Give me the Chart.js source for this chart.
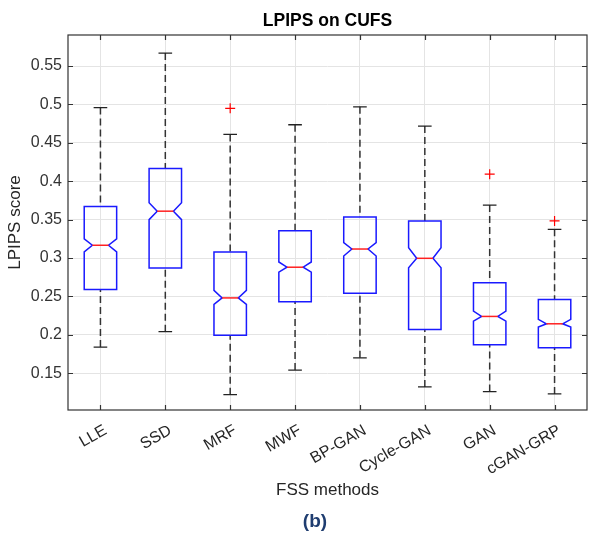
<!DOCTYPE html>
<html>
<head>
<meta charset="utf-8">
<title>LPIPS on CUFS</title>
<script src="https://cdn.jsdelivr.net/npm/chart.js@4.4.1/dist/chart.umd.min.js"></script>
<style>
  html, body { margin: 0; padding: 0; background: #fff; }
  canvas { display: block; }
</style>
</head>
<body>
<canvas id="lpipsChart" width="589" height="536"></canvas>
<script>
// values
const methods     = ["LLE", "SSD", "MRF", "MWF", "BP-GAN", "Cycle-GAN", "GAN", "cGAN-GRP"];
const whiskerLow  = [0.184, 0.204, 0.122, 0.154, 0.170, 0.132, 0.126, 0.123];
const q1          = [0.259, 0.287, 0.1995, 0.243, 0.254, 0.207, 0.187, 0.183];
const notchLow    = [0.308, 0.350, 0.2396, 0.2817, 0.3026, 0.2873, 0.2178, 0.2100];
const median      = [0.3166, 0.361, 0.248, 0.288, 0.3117, 0.2996, 0.2239, 0.2143];
const notchHigh   = [0.325, 0.372, 0.2578, 0.2948, 0.3200, 0.3134, 0.2308, 0.2200];
const q3          = [0.367, 0.4166, 0.3078, 0.3356, 0.3535, 0.3483, 0.2678, 0.2461];
const whiskerHigh = [0.496, 0.567, 0.461, 0.4736, 0.497, 0.4719, 0.369, 0.3374];
const outliers    = [null, null, 0.495, null, null, null, 0.4092, 0.3483];

const yTicks      = [0.15, 0.2, 0.25, 0.3, 0.35, 0.4, 0.45, 0.5, 0.55];
const yTickLabels = ["0.15", "0.2", "0.25", "0.3", "0.35", "0.4", "0.45", "0.5", "0.55"];

const FONT = "'Liberation Sans', Arial, Helvetica, sans-serif";
Chart.defaults.font.family = FONT;

/* ================= NOTCHED BOXES ================= */
const notchedBoxes = {
    id: "notchedBoxes",
    afterDatasetsDraw(chart) {
        const { ctx, scales: { x, y } } = chart;
        const step = x.getPixelForValue(1) - x.getPixelForValue(0);
        const py = v => y.getPixelForValue(v);

        ctx.save();
        methods.forEach(function (m, i) {
            const cx = x.getPixelForValue(i);
            const hw = step * 0.25;     // half box width
            const nw = hw * 0.5;        // half width at the notch
            const cw = step * 0.105;    // half cap width
            const l = cx - hw, r = cx + hw;

            // whiskers
            ctx.strokeStyle = "#333";
            ctx.lineWidth = 1.5;
            ctx.setLineDash([7, 4]);
            ctx.beginPath();
            ctx.moveTo(cx, py(whiskerHigh[i]));
            ctx.lineTo(cx, py(q3[i]));
            ctx.moveTo(cx, py(whiskerLow[i]));
            ctx.lineTo(cx, py(q1[i]));
            ctx.stroke();
            ctx.setLineDash([]);

            // caps
            ctx.strokeStyle = "#222";
            ctx.lineWidth = 1.3;
            ctx.beginPath();
            ctx.moveTo(cx - cw, py(whiskerHigh[i]));
            ctx.lineTo(cx + cw, py(whiskerHigh[i]));
            ctx.moveTo(cx - cw, py(whiskerLow[i]));
            ctx.lineTo(cx + cw, py(whiskerLow[i]));
            ctx.stroke();

            // box with notch
            ctx.strokeStyle = "#1a1aff";
            ctx.lineWidth = 1.5;
            ctx.beginPath();
            ctx.moveTo(l, py(q1[i]));
            ctx.lineTo(l, py(notchLow[i]));
            ctx.lineTo(cx - nw, py(median[i]));
            ctx.lineTo(l, py(notchHigh[i]));
            ctx.lineTo(l, py(q3[i]));
            ctx.lineTo(r, py(q3[i]));
            ctx.lineTo(r, py(notchHigh[i]));
            ctx.lineTo(cx + nw, py(median[i]));
            ctx.lineTo(r, py(notchLow[i]));
            ctx.lineTo(r, py(q1[i]));
            ctx.closePath();
            ctx.stroke();

            // median
            ctx.strokeStyle = "#ff2020";
            ctx.beginPath();
            ctx.moveTo(cx - nw, py(median[i]));
            ctx.lineTo(cx + nw, py(median[i]));
            ctx.stroke();
        });
        ctx.restore();
    }
};

/* ================= AXES FRAME + INNER TICKS ================= */
const axesFrame = {
    id: "axesFrame",
    afterDraw(chart) {
        const { ctx, chartArea: a, scales: { x, y } } = chart;
        ctx.save();
        ctx.strokeStyle = "#333";
        ctx.lineWidth = 1.2;
        ctx.beginPath();
        y.ticks.forEach(function (t, i) {
            const p = Math.round(y.getPixelForTick(i)) + 0.5;
            ctx.moveTo(a.left, p);  ctx.lineTo(a.left + 5, p);
            ctx.moveTo(a.right, p); ctx.lineTo(a.right - 5, p);
        });
        x.ticks.forEach(function (t, i) {
            const p = Math.round(x.getPixelForTick(i)) + 0.5;
            ctx.moveTo(p, a.bottom); ctx.lineTo(p, a.bottom - 5);
            ctx.moveTo(p, a.top);    ctx.lineTo(p, a.top + 5);
        });
        ctx.stroke();
        ctx.strokeRect(a.left, a.top, a.right - a.left, a.bottom - a.top);

        // panel tag
        ctx.fillStyle = "#1f3d70";
        ctx.font = "bold 19px " + FONT;
        ctx.textAlign = "center";
        ctx.textBaseline = "middle";
        ctx.fillText("(b)", 315, 522);
        ctx.restore();
    }
};

new Chart(document.getElementById("lpipsChart"), {
    type: "line",
    data: {
        labels: methods,
        datasets: [{
            label: "Outliers",
            data: outliers,
            showLine: false,
            pointStyle: "cross",
            pointRadius: 5,
            pointBorderWidth: 1.2,
            pointBorderColor: "#ff0000",
            pointBackgroundColor: "#ff0000"
        }]
    },
    options: {
        responsive: false,
        animation: false,
        devicePixelRatio: 1,
        layout: { autoPadding: false, padding: { left: 0, right: 2, top: 0, bottom: 0 } },
        plugins: {
            legend: { display: false },
            tooltip: { enabled: false },
            title: {
                display: true,
                text: "LPIPS on CUFS",
                color: "#000",
                fullSize: false,
                font: { size: 17.5, weight: "bold" },
                padding: { top: 11, bottom: 3 }
            }
        },
        scales: {
            x: {
                type: "category",
                offset: true,
                afterFit(s) {
                    s.height = 126;
                    s.paddingLeft = 0;
                    s.paddingRight = 0;
                },
                grid: { color: "#e4e4e4", drawTicks: false },
                border: { display: false },
                ticks: {
                    autoSkip: false,
                    minRotation: 30,
                    maxRotation: 30,
                    padding: 11,
                    labelOffset: 5,
                    color: "#262626",
                    font: { size: 16 }
                },
                title: {
                    display: true,
                    text: "FSS methods",
                    color: "#262626",
                    font: { size: 17 },
                    padding: { top: 0, bottom: 35.8 }
                }
            },
            y: {
                min: 0.102,
                max: 0.5905,
                afterFit(s) { s.width = 68; },
                afterBuildTicks(s) { s.ticks = yTicks.map(v => ({ value: v })); },
                grid: { color: "#e4e4e4", drawTicks: false },
                border: { display: false },
                ticks: {
                    padding: 6,
                    color: "#333",
                    font: { size: 16 },
                    callback: (v, i) => yTickLabels[i]
                },
                title: {
                    display: true,
                    text: "LPIPS score",
                    color: "#262626",
                    font: { size: 17 },
                    padding: { top: 5, bottom: 0 }
                }
            }
        }
    },
    plugins: [notchedBoxes, axesFrame]
});
</script>
</body>
</html>
